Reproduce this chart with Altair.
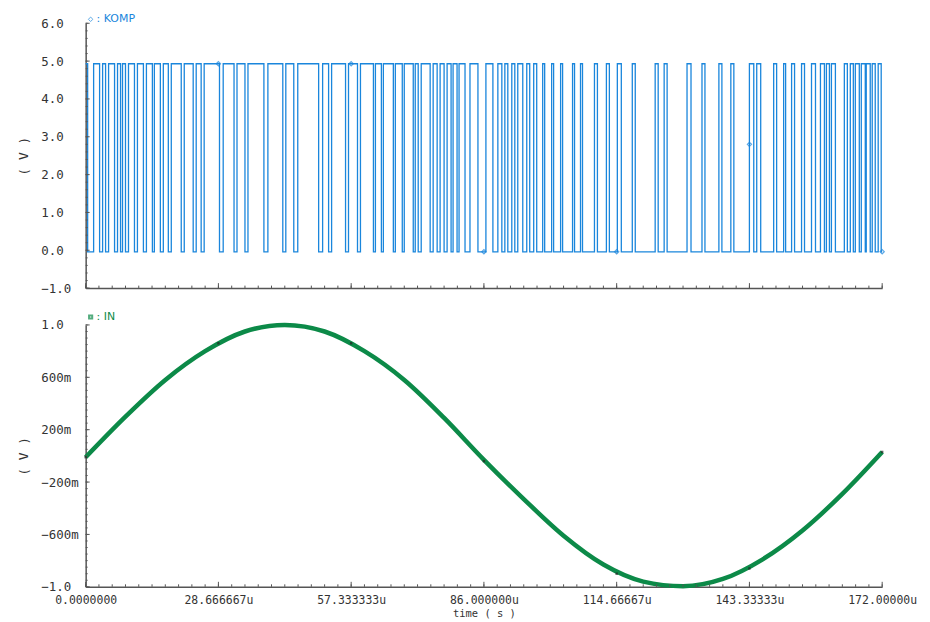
import json
import altair as alt
import numpy as np
import pandas as pd

# ---------------- data (times in microseconds) ----------------
komp_rise = [0, 1.72, 3.66, 4.95, 6.88, 7.96, 9.25, 11.18, 13.12, 14.84, 16.77, 18.49,
             21.29, 23.87, 25.59, 29.70, 32.68, 35.05, 39.35, 43.22, 45.80, 51.17, 53.11,
             56.76, 59.34, 62.57, 64.29, 66.87, 68.80, 71.17, 72.46, 75.04, 76.54, 78.05,
             79.34, 80.63, 82.99, 86.43, 89.01, 90.52, 92.02, 93.31, 95.25, 96.75, 98.69,
             100.62, 102.56, 105.14, 106.86, 109.87, 112.45, 114.81, 118.04, 122.98, 124.92,
             129.86, 133.09, 136.74, 139.32, 143.33, 144.91, 148.57, 150.72, 152.44, 154.59,
             156.74, 158.67, 159.96, 161.04, 163.83, 165.12, 166.20, 167.49, 168.56, 169.85,
             171.14]
komp_fall = [0.43, 3.01, 4.30, 6.24, 7.53, 8.60, 10.54, 12.47, 14.41, 16.13, 17.85, 20.64,
             23.22, 24.94, 28.90, 32.04, 34.40, 38.49, 42.57, 44.94, 50.31, 52.46, 56.12,
             58.70, 62.14, 63.86, 66.44, 68.37, 70.74, 71.81, 74.39, 75.90, 77.40, 78.91,
             80.20, 81.92, 84.71, 87.94, 89.87, 91.16, 92.67, 94.39, 95.89, 97.40, 99.12,
             101.05, 102.99, 105.57, 107.29, 110.51, 113.09, 115.67, 118.68, 123.63, 125.56,
             130.72, 133.73, 137.39, 139.97, 144.27, 145.77, 149.21, 151.15, 153.08, 155.23,
             157.60, 159.53, 160.61, 161.90, 164.48, 165.77, 167.06, 168.35, 169.42, 170.50,
             171.79]
komp_high = 4.93
komp_low = -0.04

in_t = [0, 8.6, 17.2, 25.8, 34.4, 43.0, 51.6, 60.2, 68.8, 77.4, 86.0, 94.6, 103.2,
        111.8, 120.4, 129.0, 137.6, 146.2, 154.8, 163.4, 172.0]
in_v = [-0.01, 0.30, 0.58, 0.80, 0.95, 1.0, 0.95, 0.80, 0.58, 0.29, -0.03, -0.33, -0.61,
        -0.83, -0.96, -0.995, -0.94, -0.79, -0.57, -0.29, 0.03]

tick_t = [0, 28.666667, 57.333333, 86.0, 114.66667, 143.33333, 172.0]
tick_lbl = ["0.0000000", "28.666667u", "57.333333u", "86.000000u",
            "114.66667u", "143.33333u", "172.00000u"]

komp_mark_t = [28.666667, 57.333333, 86.0, 114.66667, 143.33333, 172.0]
komp_mark_v = [4.93, 4.93, -0.04, -0.04, 2.8, -0.04]
in_mark_t = tick_t
in_mark_v = [-0.01, 0.86, 0.86, -0.04, -0.90, -0.86, 0.03]

top_ticks = [-1, 0, 1, 2, 3, 4, 5, 6]
bot_ticks = [-1.0, -0.6, -0.2, 0.2, 0.6, 1.0]

# ---------------- styling ----------------
BLUE = "#1a86dc"
GREEN = "#0c8a48"
AX = "#555555"
TXT = "#333333"
MONO = "DejaVu Sans Mono"
W, H1, H2 = 800, 266, 263

xscale = alt.Scale(domain=[0, 172], nice=False, zero=False)
y1scale = alt.Scale(domain=[-1, 6], nice=False, zero=False)
y2scale = alt.Scale(domain=[-1, 1], nice=False, zero=False)

NB = "\u00a0"


def yaxis(values, expr, h):
    return alt.Axis(values=values, labelExpr=expr, labelAlign="left", labelPadding=45,
                    ticks=False, tickSize=0, grid=False, domainColor=AX, domainWidth=1.5,
                    labelFont=MONO, labelFontSize=12.5, labelColor=TXT,
                    title="( V )", titleX=-62, titleY=h / 2, titleAngle=270,
                    titleBaseline="middle", titleFont=MONO, titleFontSize=13,
                    titleFontWeight="normal", titleColor=TXT)


top_expr = "(datum.value < 0 ? '' : '" + NB + "') + format(datum.value, '.1f')"
bot_expr = ("(datum.value < 0 ? '' : '" + NB + "') + (abs(datum.value) > 0.9 ? "
            "format(datum.value, '.1f') : format(datum.value * 1000, '.0f') + 'm')")
x_expr = json.dumps(tick_lbl) + "[round(datum.value / 28.6666667)]"

xaxis_top = alt.Axis(values=tick_t, labels=False, ticks=False, tickSize=0, title=None,
                     grid=False, domainColor=AX, domainWidth=1.5)
xaxis_bot = alt.Axis(values=tick_t, labelExpr=x_expr, ticks=False, tickSize=0,
                     grid=False, domainColor=AX, domainWidth=1.5, labelFlush=False,
                     labelOverlap=False, labelBound=False, labelFont=MONO,
                     labelFontSize=11.5, labelColor=TXT, labelPadding=8,
                     title="time ( s )", titleFont=MONO, titleFontSize=10.5,
                     titleFontWeight="normal", titleColor=TXT, titlePadding=2)
yaxis_top = yaxis(top_ticks, top_expr, H1)
yaxis_bot = yaxis(bot_ticks, bot_expr, H2)


def tick_layers(xaxis, yscale, yaxis_, ymajor, yminor, h):
    xmaj = alt.Chart(pd.DataFrame({"t": tick_t})).mark_rule(color=AX, strokeWidth=1).encode(
        x=alt.X("t:Q", scale=xscale, axis=xaxis), y=alt.value(h), y2=alt.value(h - 5))
    xmin = alt.Chart(pd.DataFrame({"t": np.linspace(0, 172, 61)})).mark_rule(
        color=AX, strokeWidth=1).encode(
        x=alt.X("t:Q", scale=xscale, axis=xaxis), y=alt.value(h), y2=alt.value(h - 2.5))
    ymaj = alt.Chart(pd.DataFrame({"v": ymajor})).mark_rule(color=AX, strokeWidth=1).encode(
        y=alt.Y("v:Q", scale=yscale, axis=yaxis_), x=alt.value(0), x2=alt.value(4))
    ymin = alt.Chart(pd.DataFrame({"v": yminor})).mark_rule(color=AX, strokeWidth=1).encode(
        y=alt.Y("v:Q", scale=yscale, axis=yaxis_), x=alt.value(0), x2=alt.value(2))
    return [xmaj, xmin, ymaj, ymin]


# ---------------- top panel: KOMP ----------------
rows = []
for r, f in zip(komp_rise, komp_fall):
    rows.append((r, komp_high))
    rows.append((f, komp_low))
rows.append((172.0, komp_low))
komp_df = pd.DataFrame(rows, columns=["t", "v"])

komp_line = alt.Chart(komp_df).mark_line(
    color=BLUE, strokeWidth=1.3, interpolate="step-after").encode(
    x=alt.X("t:Q", scale=xscale, axis=xaxis_top),
    y=alt.Y("v:Q", scale=y1scale, axis=yaxis_top),
)
komp_marks = alt.Chart(pd.DataFrame({"t": komp_mark_t, "v": komp_mark_v})).mark_point(
    shape="diamond", filled=False, size=18, color=BLUE, strokeWidth=1.2).encode(
    x=alt.X("t:Q", scale=xscale, axis=xaxis_top),
    y=alt.Y("v:Q", scale=y1scale, axis=yaxis_top))
komp_leg_sym = alt.Chart(pd.DataFrame({"a": [0]})).mark_point(
    shape="diamond", filled=False, size=20, strokeWidth=1, color=BLUE).encode(
    x=alt.value(5), y=alt.value(-4))
komp_leg_txt = alt.Chart(pd.DataFrame({"s": [": KOMP"]})).mark_text(
    align="left", baseline="middle", font="DejaVu Sans", fontSize=11, color=BLUE).encode(
    x=alt.value(11), y=alt.value(-4), text="s:N")

top = alt.layer(
    komp_line, komp_marks, komp_leg_sym, komp_leg_txt,
    *tick_layers(xaxis_top, y1scale, yaxis_top, top_ticks,
                 np.round(np.arange(-1, 6.001, 0.2), 3), H1)
).properties(width=W, height=H1)

# ---------------- bottom panel: IN ----------------
in_df = pd.DataFrame({"t": in_t, "v": in_v})

in_line = alt.Chart(in_df).mark_line(
    color=GREEN, strokeWidth=4.5, interpolate="monotone").encode(
    x=alt.X("t:Q", scale=xscale, axis=xaxis_bot),
    y=alt.Y("v:Q", scale=y2scale, axis=yaxis_bot),
)
in_marks = alt.Chart(pd.DataFrame({"t": in_mark_t, "v": in_mark_v})).mark_point(
    shape="square", filled=True, size=6, color="#222222").encode(
    x=alt.X("t:Q", scale=xscale, axis=xaxis_bot),
    y=alt.Y("v:Q", scale=y2scale, axis=yaxis_bot))
in_leg_sym = alt.Chart(pd.DataFrame({"a": [0]})).mark_point(
    shape="square", filled=False, size=10, color=GREEN).encode(
    x=alt.value(5), y=alt.value(-8))
in_leg_txt = alt.Chart(pd.DataFrame({"s": [": IN"]})).mark_text(
    align="left", baseline="middle", font="DejaVu Sans", fontSize=11, color=GREEN).encode(
    x=alt.value(11), y=alt.value(-8), text="s:N")

bottom = alt.layer(
    in_line, in_marks, in_leg_sym, in_leg_txt,
    *tick_layers(xaxis_bot, y2scale, yaxis_bot, bot_ticks,
                 np.round(np.arange(-1, 1.001, 0.05), 3), H2)
).properties(width=W, height=H2)

chart = alt.vconcat(top, bottom, spacing=16).properties(
    padding={"left": 10, "top": 4, "right": 5, "bottom": 0},
    background="white",
).configure_view(stroke=None)

chart.save("out.html", embed_options={"renderer": "svg", "actions": False})
